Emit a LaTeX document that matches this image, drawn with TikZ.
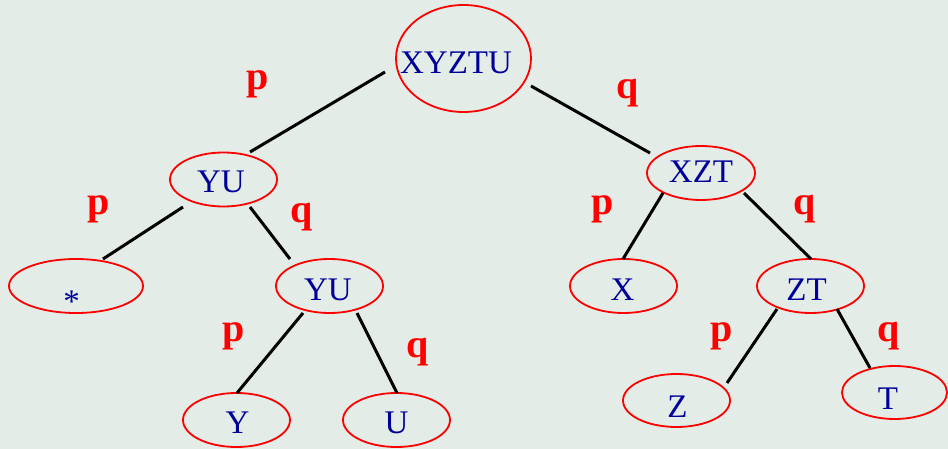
\documentclass[tikz,border=0pt]{standalone}
\usepackage{fontspec}
\setmainfont{Liberation Serif}
\usetikzlibrary{shapes.geometric}
\definecolor{bgc}{RGB}{228,236,232}
\definecolor{txtblue}{RGB}{0,0,153}
\definecolor{lblred}{RGB}{255,0,0}
\newcommand\ctrtext[3]{\raisebox{-#2pt}[0pt][0pt]{\makebox[0pt]{\kern#1pt\kern#1pt #3}}}
\tikzset{
  ell/.style={ellipse, draw=lblred, line width=1.8pt, inner sep=0pt,
    minimum width=107pt, minimum height=54pt, text=txtblue,
    font=\fontsize{33}{40}\selectfont},
  edge/.style={draw=black, line width=3pt},
  lbl/.style={anchor=base, text=lblred, inner sep=0pt,
    font=\fontsize{40}{48}\selectfont\bfseries}
}
\begin{document}
\begin{tikzpicture}[x=1pt,y=-1pt]
\fill[bgc] (0,0) rectangle (948,449);
\useasboundingbox (0,0) rectangle (948,449);
% nodes
\node[ell, minimum width=135pt, minimum height=107pt] (root) at (463.5,58.5) {\ctrtext{-7.5}{15.5}{XYZTU}};
\node[ell] (yu) at (223.5,179.5) {\ctrtext{-2.5}{13.5}{YU}};
\node[ell, minimum width=134pt] (star) at (76,286) {\ctrtext{-4.5}{26}{*}};
\node[ell] (yu2) at (329.5,286) {\ctrtext{-1.5}{14}{YU}};
\node[ell] (y) at (236.5,420) {\ctrtext{1}{13}{Y}};
\node[ell] (u) at (396.5,420) {\ctrtext{0}{13}{U}};
\node[ell, minimum width=108pt] (xzt) at (701,173) {\ctrtext{0}{10}{XZT}};
\node[ell] (x) at (623.5,286) {\ctrtext{-1}{14}{X}};
\node[ell] (zt) at (810.5,286) {\ctrtext{-4}{14}{ZT}};
\node[ell, minimum height=53pt] (z) at (676.5,400.5) {\ctrtext{1}{16.5}{Z}};
\node[ell, minimum width=105pt, minimum height=53pt] (t) at (894.5,392.5) {\ctrtext{-6.5}{16.5}{T}};
% edges
\draw[edge] ([shift={(-78.5,13.5)}]root.center) -- ([shift={(26.5,-27.5)}]yu.center);
\draw[edge] ([shift={(67.5,27.5)}]root.center) -- ([shift={(-51,-20)}]xzt.center);
\draw[edge] ([shift={(-40.5,27.5)}]yu.center) -- ([shift={(27,-27)}]star.center);
\draw[edge] ([shift={(26.5,27.5)}]yu.center) -- ([shift={(-39.5,-27)}]yu2.center);
\draw[edge] ([shift={(-26.5,27)}]yu2.center) -- ([shift={(0.5,-27)}]y.center);
\draw[edge] ([shift={(27.5,27)}]yu2.center) -- ([shift={(0.5,-27)}]u.center);
\draw[edge] ([shift={(-38,20)}]xzt.center) -- ([shift={(-0.5,-27)}]x.center);
\draw[edge] ([shift={(43,20)}]xzt.center) -- ([shift={(0.5,-27)}]zt.center);
\draw[edge] ([shift={(-33.5,23)}]zt.center) -- ([shift={(50.5,-17.5)}]z.center);
\draw[edge] ([shift={(26.5,23)}]zt.center) -- ([shift={(-24.5,-24.5)}]t.center);
% labels
\node[lbl] (l1) at (258,89.5) {p};
\node[lbl] (l2) at (628,99) {q};
\node[lbl] (l3) at (99,215) {p};
\node[lbl] (l4) at (302,223) {q};
\node[lbl] (l5) at (603,215) {p};
\node[lbl] (l6) at (805,215) {q};
\node[lbl] (l7) at (234,341) {p};
\node[lbl] (l8) at (418,357) {q};
\node[lbl] (l9) at (722,341) {p};
\node[lbl] (l10) at (889,341) {q};
\end{tikzpicture}
\end{document}
